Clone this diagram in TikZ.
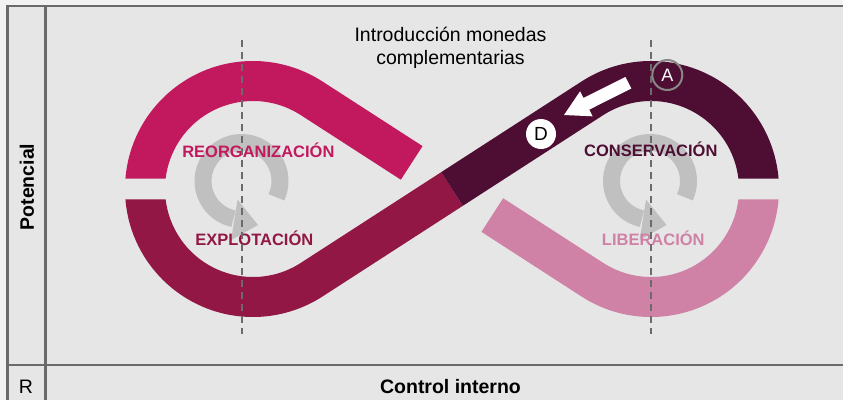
\documentclass[tikz,border=0pt]{standalone}
\usepackage{fontspec}
\setmainfont{Liberation Sans}
\usetikzlibrary{calc}
\definecolor{outbg}{HTML}{F2F2F2}
\definecolor{panel}{HTML}{E6E6E6}
\definecolor{frame}{HTML}{6A6A6A}
\definecolor{magc}{HTML}{C2195E}
\definecolor{explc}{HTML}{931744}
\definecolor{consc}{HTML}{4E0D33}
\definecolor{libc}{HTML}{CF82A6}
\definecolor{ringc}{HTML}{C0C0C0}
\definecolor{dashc}{HTML}{6B6B6B}
\begin{document}
\begin{tikzpicture}[x=1pt,y=1pt,
  frameline/.style={draw=frame,line width=2.5pt},
  lab/.style={font=\fontsize{16.5}{18}\selectfont\bfseries,anchor=base,inner sep=0pt},
  ringarc/.style={draw=ringc,line width=17pt},
  guide/.style={draw=dashc,line width=1.8pt,dash pattern=on 7pt off 5pt},
  plain/.style={font=\fontsize{19.5}{23.5}\selectfont,inner sep=0pt}]
\useasboundingbox (0,0) rectangle (843,400);
\fill[outbg] (0,0) rectangle (843,400);
\fill[panel] (7.5,0) rectangle (843,394);
% frame
\coordinate (tl) at (7.5,394);
\coordinate (tr) at (843,394);
\coordinate (bl) at (7.5,0);
\coordinate (itl) at (45.5,394);
\coordinate (ibl) at (45.5,0);
\coordinate (hl) at (7.5,35);
\coordinate (hr) at (843,35);
\draw[frameline] (bl) -- (tl) -- (tr);
\draw[frameline] (ibl) -- (itl);
\draw[frameline] (hl) -- (hr);
% centres
\coordinate (L) at (253,211);
\coordinate (R) at (651,211);
\coordinate (M) at (452,211);
% reorganizacion band
\fill[magc] ($(L)+(175.30:128)$) arc[start angle=175.30,end angle=57.13,radius=128]
  -- (422.55,253.9) -- (400.85,220.3) -- ($(L)+(57.13:88)$)
  arc[start angle=57.13,end angle=173.15,radius=88] -- cycle;
% explotacion band
\fill[explc] ($(L)+(184.70:128)$) arc[start angle=184.70,end angle=302.87,radius=128]
  -- (462.85,194.2) -- (441.15,227.8) -- ($(L)+(302.87:88)$)
  arc[start angle=302.87,end angle=186.85,radius=88] -- cycle;
% conservacion band
\fill[consc] (441.15,227.8) -- ($(R)+(122.87:128)$) arc[start angle=122.87,end angle=4.70,radius=128]
  -- ($(R)+(6.85:88)$) arc[start angle=6.85,end angle=122.87,radius=88] -- (462.85,194.2) -- cycle;
% liberacion band
\fill[libc] (481.45,168.15) -- ($(R)+(237.13:128)$) arc[start angle=237.13,end angle=355.30,radius=128]
  -- ($(R)+(353.15:88)$) arc[start angle=353.15,end angle=237.13,radius=88] -- (503.15,201.75) -- cycle;
% grey cycle arrows
\coordinate (CL) at (241.5,219);
\coordinate (CR) at (650,219);
\foreach \c in {CL,CR}{
  \draw[ringarc] ($(\c)+(-25:38.5)$) arc[start angle=-25,end angle=258,radius=38.5];
  \fill[ringc] ($(\c)+(258:19)$) -- ($(\c)+(260:60)$) -- ($(\c)+(290.6:47)$) -- cycle;
}
% labels
\node[lab,text=magc] (reo) at (258.4,243) {REORGANIZACIÓN};
\node[lab,text=explc] (exp) at (254.3,155) {EXPLOTACIÓN};
\node[lab,text=consc] (con) at (650.8,243.3) {CONSERVACIÓN};
\node[lab,text=libc] (lib) at (653.3,155) {LIBERACIÓN};
% dashed guides
\coordinate (g1t) at (242,360); \coordinate (g1b) at (242,66);
\coordinate (g2t) at (651,360); \coordinate (g2b) at (651,66);
\draw[guide] (g1t) -- (g1b);
\draw[guide] (g2t) -- (g2b);
% title
\node[plain,anchor=base] (t1) at (450.5,358.3) {Introducción monedas};
\node[plain,anchor=base] (t2) at (450.5,335) {complementarias};
% A and D markers
\node[circle,draw=frame!80,line width=2pt,minimum size=30pt,inner sep=0pt,
  text=white,font=\fontsize{18}{18}\selectfont] (A) at (667.3,325) {A};
\node[circle,fill=white,minimum size=30pt,inner sep=0pt,
  text=black,font=\fontsize{19}{19}\selectfont] (D) at (541,266) {D};
% white arrow
\begin{scope}[shift={(564,285)},rotate=206.6]
\fill[white] (0,0) -- (-25,14) -- (-25,6.5) -- (-72,6.5) -- (-72,-6.5) -- (-25,-6.5) -- (-25,-14) -- cycle;
\end{scope}
% axis labels
\node[font=\fontsize{19.5}{20}\selectfont\bfseries,rotate=90,inner sep=0pt] (pot) at (27,213) {Potencial};
\node[plain,anchor=base] (r) at (26,7) {R};
\node[font=\fontsize{19.5}{20}\selectfont\bfseries,anchor=base,inner sep=0pt] (ci) at (450.5,7) {Control interno};
\end{tikzpicture}
\end{document}
